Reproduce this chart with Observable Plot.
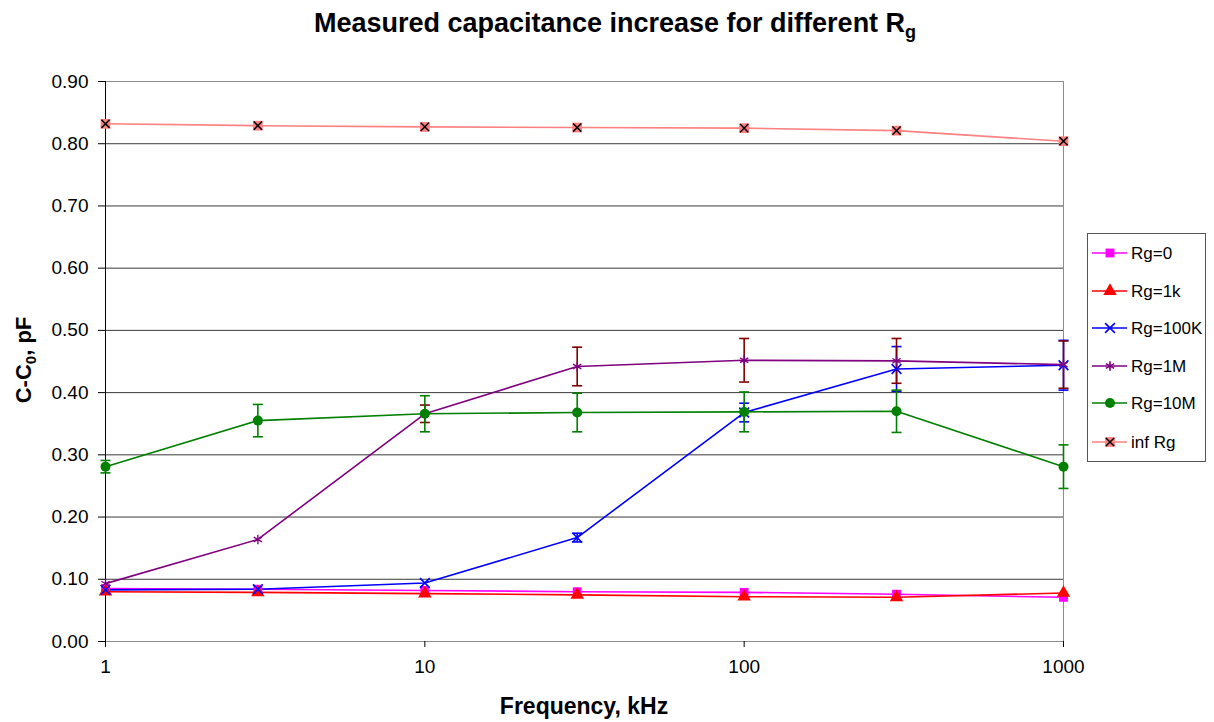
<!DOCTYPE html>
<html>
<head>
<meta charset="utf-8">
<script src="https://cdn.jsdelivr.net/npm/d3@7"></script>
<script src="https://cdn.jsdelivr.net/npm/@observablehq/plot@0.6"></script>
<style>
  body { margin: 0; background: #fff; font-family: "Liberation Sans", Arial, sans-serif; }
  #wrap { position: relative; width: 1214px; height: 722px; overflow: hidden; }
  #wrap svg.plot { position: absolute; left: 0; top: 0; }
  .lbl { position: absolute; font-weight: bold; white-space: nowrap; color: #000; line-height: 30px; height: 30px; text-align: center; }
  .lbl sub { line-height: 0; }
  #title { left: 215px; width: 800px; top: 8px; font-size: 27px; }
  #xlabel { left: 384px; width: 400px; top: 691px; font-size: 23px; }
  #ylabel { left: -76px; width: 200px; top: 345px; transform: rotate(-90deg); transform-origin: 50% 50%; font-size: 22px; }
</style>
</head>
<body>
<div id="wrap">
  <div id="title" class="lbl">Measured capacitance increase for different R<sub style="font-size:18px">g</sub></div>
  <div id="xlabel" class="lbl">Frequency, kHz</div>
  <div id="ylabel" class="lbl">C-C<sub style="font-size:15px">0</sub>, pF</div>
</div>
<script>
// ---- data ----
const freq = [1, 3, 10, 30, 100, 300, 1000];
const seriesNames = ["Rg=0", "Rg=1k", "Rg=100K", "Rg=1M", "Rg=10M", "inf Rg"];
const rg0    = [0.085, 0.084, 0.082, 0.080, 0.079, 0.076, 0.071];
const rg1k   = [0.080, 0.079, 0.077, 0.075, 0.072, 0.071, 0.078];
const rg100k = [0.083, 0.084, 0.094, 0.167, 0.368, 0.438, 0.444];
const rg1M   = [0.093, 0.164, 0.366, 0.442, 0.452, 0.451, 0.445];
const rg10M  = [0.281, 0.355, 0.366, 0.368, 0.369, 0.370, 0.281];
const rgInf  = [0.832, 0.829, 0.827, 0.826, 0.825, 0.821, 0.804];
const err100k = [0, 0, 0, 0.007, 0.015, 0.036, 0.040];
const err1M   = [0, 0, 0.014, 0.031, 0.035, 0.036, 0.038];
const err10M  = [0.010, 0.026, 0.029, 0.031, 0.032, 0.034, 0.035];
const yTicks = [0, 0.1, 0.2, 0.3, 0.4, 0.5, 0.6, 0.7, 0.8, 0.9];
const xTicks = [1, 10, 100, 1000];

// ---- styles ----
const colors = {"Rg=0": "#FF00FF", "Rg=1k": "#FF0000", "Rg=100K": "#0000FF", "Rg=1M": "#800080", "Rg=10M": "#008000", "inf Rg": "#FF8080"};
const errColors = {"Rg=100K": "#0000FF", "Rg=1M": "#800000", "Rg=10M": "#008000"};

const values = {"Rg=0": rg0, "Rg=1k": rg1k, "Rg=100K": rg100k, "Rg=1M": rg1M, "Rg=10M": rg10M, "inf Rg": rgInf};
const errs = {"Rg=100K": err100k, "Rg=1M": err1M, "Rg=10M": err10M};

const rows = seriesNames.flatMap(s => freq.map((f, i) => ({series: s, x: f, y: values[s][i]})));
const errRows = Object.keys(errs).flatMap(s => freq.map((f, i) => ({series: s, x: f, y: values[s][i], e: errs[s][i]})))
  .filter(d => d.e > 0)
  .map(d => ({...d, lo: d.y - d.e, hi: d.y + d.e}));
const capRows = errRows.flatMap(d => [{series: d.series, x: d.x, y: d.lo}, {series: d.series, x: d.x, y: d.hi}]);

const cap = {draw(ctx) { ctx.moveTo(-5, 0); ctx.lineTo(5, 0); }};

const by = s => rows.filter(d => d.series === s);

const marks = [
  Plot.ruleY(yTicks, {stroke: "#3a3a3a", strokeWidth: 1}),
  Plot.frame({stroke: "#8c8c8c", strokeWidth: 1}),
  Plot.ruleX([1], {stroke: "#000", strokeWidth: 1}),
  Plot.axisY(yTicks, {tickSize: 7, tickPadding: 10, tickFormat: d3.format(".2f"), fontSize: 19, label: null, stroke: "#000"}),
  Plot.axisX(xTicks, {tickSize: 6, tickPadding: 12, tickFormat: d => String(d), fontSize: 19, label: null, stroke: "#000"}),
];
for (const s of seriesNames) {
  marks.push(Plot.line(by(s), {x: "x", y: "y", stroke: colors[s], strokeWidth: 1.6}));
}
for (const s of Object.keys(errs)) {
  marks.push(Plot.ruleX(errRows.filter(d => d.series === s), {x: "x", y1: "lo", y2: "hi", stroke: errColors[s], strokeWidth: 1.6}));
  marks.push(Plot.dot(capRows.filter(d => d.series === s), {x: "x", y: "y", symbol: cap, fill: "none", stroke: errColors[s], strokeWidth: 1.6}));
}
marks.push(
  Plot.dot(by("Rg=0"), {x: "x", y: "y", symbol: "square", r: 5, fill: colors["Rg=0"]}),
  Plot.dot(by("Rg=1k"), {x: "x", y: "y", symbol: "triangle", r: 5, fill: colors["Rg=1k"]}),
  Plot.dot(by("Rg=100K"), {x: "x", y: "y", symbol: "times", r: 4.5, stroke: colors["Rg=100K"], strokeWidth: 1.6}),
  Plot.dot(by("Rg=1M"), {x: "x", y: "y", symbol: "asterisk", r: 4.5, stroke: colors["Rg=1M"], strokeWidth: 1.4}),
  Plot.dot(by("Rg=10M"), {x: "x", y: "y", symbol: "circle", r: 5, fill: colors["Rg=10M"]}),
  Plot.dot(by("inf Rg"), {x: "x", y: "y", symbol: "square", r: 5.5, fill: colors["inf Rg"]}),
  Plot.dot(by("inf Rg"), {x: "x", y: "y", symbol: "times", r: 3.8, stroke: "#000", strokeWidth: 1.5})
);

const chart = Plot.plot({
  width: 1214, height: 722,
  marginLeft: 105, marginRight: 151, marginTop: 81, marginBottom: 81,
  style: {fontFamily: '"Liberation Sans", Arial, sans-serif', color: "#000", background: "transparent"},
  x: {type: "log", domain: [1, 1000]},
  y: {domain: [0, 0.9]},
  marks
});
document.getElementById("wrap").prepend(chart);

// ---- legend ----
const symMap = {"Rg=0": "square", "Rg=1k": "triangle", "Rg=100K": "times", "Rg=1M": "asterisk", "Rg=10M": "circle", "inf Rg": "square"};
const lw = 118, lh = 228;
const leg = d3.create("svg").attr("id", "legend").attr("width", lw + 1).attr("height", lh + 1)
  .style("position", "absolute").style("left", "1087px").style("top", "233px");
leg.append("rect").attr("x", 0.5).attr("y", 0.5).attr("width", lw).attr("height", lh)
  .attr("fill", "#fff").attr("stroke", "#555").attr("stroke-width", 1);
const rowY = [20, 58, 95, 133, 170, 209];
seriesNames.forEach((s, i) => {
  const g = leg.append("g").attr("transform", `translate(0,${rowY[i]})`);
  g.append("line").attr("x1", 5).attr("x2", 40).attr("y1", 0).attr("y2", 0).attr("stroke", colors[s]).attr("stroke-width", 1.6);
  const sym = d3.symbol().type({square: d3.symbolSquare, triangle: d3.symbolTriangle, times: d3.symbolTimes, asterisk: d3.symbolAsterisk, circle: d3.symbolCircle}[symMap[s]]);
  const isStroke = symMap[s] === "times" || symMap[s] === "asterisk";
  const r = s === "inf Rg" ? 5.5 : (isStroke ? 4.5 : 5);
  const p = g.append("path").attr("transform", "translate(23,0)").attr("d", sym.size(Math.PI * r * r)());
  if (isStroke) p.attr("fill", "none").attr("stroke", colors[s]).attr("stroke-width", 1.6);
  else p.attr("fill", colors[s]);
  if (s === "inf Rg") {
    g.append("path").attr("transform", "translate(23,0)").attr("d", d3.symbol(d3.symbolTimes, Math.PI * 3.8 * 3.8)())
      .attr("fill", "none").attr("stroke", "#000").attr("stroke-width", 1.5);
  }
  g.append("text").attr("x", 44).attr("y", 0).attr("dy", "0.35em")
    .attr("font-family", '"Liberation Sans", Arial, sans-serif').attr("font-size", 17).text(s);
});
document.getElementById("wrap").append(leg.node());
</script>
</body>
</html>
